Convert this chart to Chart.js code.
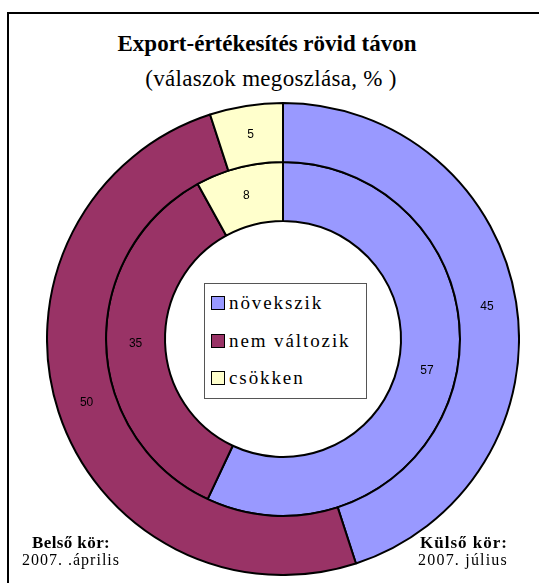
<!DOCTYPE html>
<html>
<head>
<meta charset="utf-8">
<script src="https://cdn.jsdelivr.net/npm/chart.js@4"></script>
<style>
  html, body { margin:0; padding:0; width:539px; height:583px; overflow:hidden; background:#fff; }
  #frame { position:absolute; left:7px; top:12px; width:600px; height:600px; border-left:2px solid #000; border-top:2px solid #000; }
  #wrap { position:absolute; left:46px; top:102px; width:474px; height:474px; }
  .txt { position:absolute; font-family:"Liberation Serif","Times New Roman",serif; color:#000; white-space:nowrap; }
  #title { left:0; width:534px; top:31px; text-align:center; font-size:23px; font-weight:bold; }
  #subtitle { left:0; width:542px; top:66px; text-align:center; font-size:23px; letter-spacing:0.3px; }
  #legend { position:absolute; left:204px; top:283px; width:163px; height:116px; border:1px solid #555; background:#fff; box-sizing:border-box; }
  .li { position:absolute; left:6px; font-family:"Liberation Serif","Times New Roman",serif; font-size:19px; letter-spacing:1.9px; white-space:nowrap; }
  .sw { display:inline-block; width:12px; height:12px; border:1.5px solid #000; margin-right:4px; vertical-align:-1px; }
</style>
</head>
<body>
<div id="frame"></div>
<div class="txt" id="title">Export-értékesítés rövid távon</div>
<div class="txt" id="subtitle">(válaszok megoszlása, % )</div>
<div id="wrap"><canvas id="c"></canvas></div>
<div id="legend"></div>
<div class="txt" style="left:32px; top:533px; font-size:17px; font-weight:bold; letter-spacing:0.4px;">Belső kör:</div>
<div class="txt" style="left:22px; top:551px; font-size:16px; letter-spacing:1px;">2007. .április</div>
<div class="txt" style="right:31px; top:533px; font-size:17px; font-weight:bold; letter-spacing:1px;">Külső kör:</div>
<div class="txt" style="right:31px; top:551px; font-size:16px; letter-spacing:1.2px;">2007. július</div>
<script>
const categories = ["növekszik", "nem változik", "csökken"];
const seriesNames = ["2007. július", "2007. április"];
const outerValues = [45, 50, 5];   // Külső kör: 2007. július
const innerValues = [57, 35, 8];   // Belső kör: 2007. április
const colors = ["#9999FF", "#993366", "#FFFFCC"];

// legend (HTML)
const lg = document.getElementById('legend');
categories.forEach((c, i) => {
  const d = document.createElement('div');
  d.className = 'li';
  d.style.top = (8 + i * 37.5) + 'px';
  d.innerHTML = '<span class="sw" style="background:' + colors[i] + '"></span>' + c;
  lg.appendChild(d);
});

const labelPlugin = {
  id: 'sliceLabels',
  afterDatasetsDraw(chart) {
    const ctx = chart.ctx;
    ctx.save();
    ctx.font = '12px "Liberation Sans", Arial, sans-serif';
    ctx.fillStyle = '#000';
    ctx.textAlign = 'center';
    ctx.textBaseline = 'middle';
    chart.data.datasets.forEach((ds, di) => {
      const meta = chart.getDatasetMeta(di);
      meta.data.forEach((arc, i) => {
        const p = arc.tooltipPosition();
        ctx.fillText(String(ds.data[i]), p.x, p.y);
      });
    });
    ctx.restore();
  }
};

new Chart(document.getElementById('c'), {
  type: 'doughnut',
  data: {
    labels: categories,
    datasets: [
      { label: seriesNames[0], data: outerValues, backgroundColor: colors, borderColor: '#000', borderWidth: 2, borderAlign: 'center' },
      { label: seriesNames[1], data: innerValues, backgroundColor: colors, borderColor: '#000', borderWidth: 2, borderAlign: 'center' }
    ]
  },
  options: {
    responsive: true,
    maintainAspectRatio: false,
    animation: false,
    cutout: '50%',
    layout: { padding: 0 },
    plugins: { legend: { display: false }, tooltip: { enabled: false }, title: { display: false } }
  },
  plugins: [labelPlugin]
});
</script>
</body>
</html>
